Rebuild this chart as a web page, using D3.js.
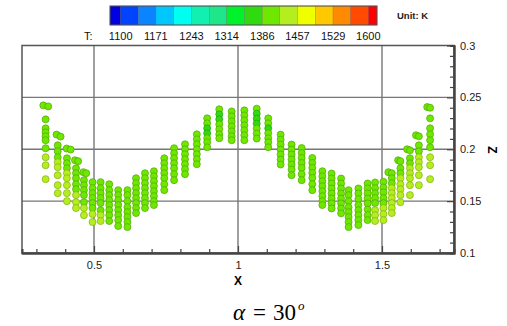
<!DOCTYPE html>
<html>
<head>
<meta charset="utf-8">
<script src="https://cdn.jsdelivr.net/npm/d3@7"></script>
<style>
  body { margin: 0; background: #fff; }
  svg { display: block; font-family: "Liberation Sans", Arial, sans-serif; }
</style>
</head>
<body>
<svg width="507" height="326"></svg>
<script>
// particle columns: x position, z values and temperature of each dot
const colX = [0.324, 0.341, 0.332, 0.370, 0.384, 0.374, 0.405, 0.419, 0.406, 0.434, 0.445, 0.4375,
  0.463, 0.473, 0.465, 0.495, 0.523, 0.553, 0.584, 0.616,
  0.646, 0.677, 0.708, 0.744, 0.778, 0.816, 0.857, 0.893, 0.935, 0.978,
  1.022, 1.065, 1.105, 1.148, 1.186, 1.221, 1.258, 1.293, 1.325, 1.358,
  1.384, 1.418, 1.450, 1.476, 1.505, 1.522, 1.534, 1.556, 1.564, 1.587, 1.597, 1.618, 1.628, 1.657, 1.667];
const colZ = [
  [0.2423], [0.2413],
  [0.2288, 0.2202, 0.2163, 0.2125, 0.2087, 0.2010, 0.1923, 0.1846, 0.1712],
  [0.2141], [0.2122],
  [0.2038, 0.1981, 0.1923, 0.1875, 0.1827, 0.1750, 0.1654, 0.1577],
  [0.2007], [0.1997],
  [0.1913, 0.1865, 0.1817, 0.1769, 0.1721, 0.1654, 0.1577, 0.1500],
  [0.1894], [0.1885],
  [0.1817, 0.1769, 0.1721, 0.1663, 0.1615, 0.1558, 0.1490, 0.1433],
  [0.1779], [0.1769],
  [0.1702, 0.1654, 0.1606, 0.1558, 0.1490, 0.1433, 0.1365],
  [0.1683, 0.1625, 0.1577, 0.1529, 0.1481, 0.1433, 0.1375, 0.1298],
  [0.1683, 0.1625, 0.1577, 0.1529, 0.1481, 0.1413, 0.1365, 0.1308],
  [0.1663, 0.1606, 0.1558, 0.1510, 0.1462, 0.1413, 0.1365, 0.1308],
  [0.1606, 0.1558, 0.1510, 0.1462, 0.1413, 0.1365, 0.1317, 0.1260],
  [0.1606, 0.1558, 0.1500, 0.1442, 0.1394, 0.1346, 0.1298, 0.1250],
  [0.1721, 0.1673, 0.1625, 0.1577, 0.1529, 0.1481, 0.1433, 0.1385],
  [0.1769, 0.1721, 0.1673, 0.1625, 0.1577, 0.1529, 0.1481, 0.1433],
  [0.1788, 0.1740, 0.1692, 0.1644, 0.1596, 0.1548, 0.1500, 0.1462],
  [0.1913, 0.1865, 0.1817, 0.1769, 0.1721, 0.1663, 0.1606],
  [0.2010, 0.1962, 0.1913, 0.1865, 0.1817, 0.1760, 0.1702],
  [0.2048, 0.2000, 0.1952, 0.1904, 0.1856, 0.1808, 0.1760],
  [0.2144, 0.2096, 0.2048, 0.2000, 0.1952, 0.1904, 0.1856],
  [0.2298, 0.2250, 0.2202, 0.2154, 0.2106, 0.2067, 0.2019],
  [0.2385, 0.2337, 0.2288, 0.2240, 0.2192, 0.2144, 0.2106],
  [0.2365, 0.2317, 0.2269, 0.2221, 0.2173, 0.2125, 0.2087],
  [0.2375, 0.2327, 0.2279, 0.2231, 0.2183, 0.2135, 0.2087],
  [0.2391, 0.2343, 0.2295, 0.2247, 0.2199, 0.2151, 0.2103],
  [0.2298, 0.2250, 0.2202, 0.2154, 0.2106, 0.2067, 0.2019],
  [0.2141, 0.2093, 0.2045, 0.1997, 0.1949, 0.1901, 0.1853],
  [0.2045, 0.1997, 0.1949, 0.1901, 0.1853, 0.1805, 0.1750],
  [0.2012, 0.1964, 0.1916, 0.1868, 0.1820, 0.1760, 0.1702],
  [0.1916, 0.1868, 0.1820, 0.1772, 0.1724, 0.1663, 0.1606],
  [0.1788, 0.1740, 0.1692, 0.1644, 0.1596, 0.1548, 0.1500, 0.1462],
  [0.1766, 0.1718, 0.1670, 0.1622, 0.1574, 0.1526, 0.1478, 0.1430],
  [0.1718, 0.1670, 0.1622, 0.1574, 0.1526, 0.1478, 0.1430, 0.1382],
  [0.1606, 0.1558, 0.1500, 0.1442, 0.1394, 0.1346, 0.1298, 0.1250],
  [0.1622, 0.1574, 0.1520, 0.1462, 0.1413, 0.1365, 0.1317, 0.1269],
  [0.1670, 0.1622, 0.1574, 0.1526, 0.1478, 0.1420, 0.1365, 0.1317],
  [0.1680, 0.1625, 0.1577, 0.1529, 0.1481, 0.1413, 0.1365, 0.1308],
  [0.1686, 0.1632, 0.1584, 0.1529, 0.1481, 0.1433, 0.1375, 0.1317],
  [0.1779],
  [0.1769, 0.1721, 0.1673, 0.1625, 0.1577, 0.1529, 0.1481, 0.1433, 0.1385],
  [0.1894],
  [0.1885, 0.1817, 0.1769, 0.1721, 0.1663, 0.1615, 0.1558, 0.1490],
  [0.2000],
  [0.1990, 0.1913, 0.1865, 0.1817, 0.1769, 0.1721, 0.1654, 0.1558],
  [0.2135],
  [0.2125, 0.2038, 0.1981, 0.1923, 0.1875, 0.1827, 0.1750, 0.1654],
  [0.2407],
  [0.2400, 0.2298, 0.2202, 0.2144, 0.2087, 0.2019, 0.1923, 0.1846, 0.1712]
];
const colT = [
  [1400], [1400],
  [1400, 1400, 1400, 1400, 1400, 1400, 1440, 1440, 1440],
  [1400], [1400],
  [1400, 1400, 1400, 1440, 1440, 1440, 1440, 1440],
  [1400], [1400],
  [1400, 1400, 1400, 1440, 1440, 1440, 1440, 1440],
  [1400], [1400],
  [1400, 1400, 1400, 1400, 1400, 1440, 1440, 1440],
  [1400], [1400],
  [1400, 1400, 1400, 1400, 1400, 1440, 1440],
  [1400, 1400, 1400, 1400, 1400, 1400, 1440, 1440],
  [1400, 1400, 1400, 1400, 1400, 1400, 1440, 1440],
  [1400, 1400, 1400, 1400, 1400, 1400, 1400, 1400],
  [1400, 1400, 1400, 1400, 1400, 1400, 1400, 1400],
  [1400, 1400, 1400, 1400, 1400, 1400, 1400, 1400],
  [1400, 1400, 1400, 1400, 1400, 1400, 1400, 1400],
  [1400, 1400, 1400, 1400, 1400, 1400, 1400, 1400],
  [1400, 1400, 1400, 1400, 1400, 1400, 1400, 1400],
  [1400, 1400, 1400, 1400, 1400, 1400, 1400],
  [1400, 1400, 1400, 1400, 1400, 1400, 1400],
  [1400, 1400, 1400, 1400, 1400, 1400, 1400],
  [1400, 1400, 1400, 1400, 1400, 1400, 1400],
  [1400, 1400, 1375, 1375, 1400, 1400, 1400],
  [1400, 1375, 1375, 1400, 1400, 1400, 1400],
  [1400, 1400, 1400, 1400, 1400, 1400, 1400],
  [1400, 1400, 1400, 1400, 1400, 1400, 1400],
  [1400, 1375, 1375, 1375, 1400, 1400, 1400],
  [1400, 1400, 1375, 1400, 1400, 1400, 1400],
  [1400, 1400, 1400, 1400, 1400, 1400, 1400],
  [1400, 1400, 1400, 1400, 1400, 1400, 1400],
  [1400, 1400, 1400, 1400, 1400, 1400, 1400],
  [1400, 1400, 1400, 1400, 1400, 1400, 1400],
  [1400, 1400, 1400, 1400, 1400, 1400, 1400, 1400],
  [1400, 1400, 1400, 1400, 1400, 1400, 1400, 1400],
  [1400, 1400, 1400, 1400, 1400, 1400, 1400, 1400],
  [1400, 1400, 1400, 1400, 1400, 1400, 1400, 1400],
  [1400, 1400, 1400, 1400, 1400, 1400, 1400, 1400],
  [1400, 1400, 1400, 1400, 1400, 1400, 1400, 1400],
  [1400, 1400, 1400, 1400, 1400, 1440, 1440, 1440],
  [1400, 1400, 1400, 1400, 1400, 1440, 1440, 1440],
  [1400],
  [1400, 1400, 1400, 1440, 1440, 1440, 1440, 1440, 1440],
  [1400],
  [1400, 1400, 1400, 1440, 1440, 1440, 1440, 1440],
  [1400],
  [1400, 1400, 1400, 1440, 1440, 1440, 1440, 1440],
  [1400],
  [1400, 1400, 1400, 1440, 1440, 1440, 1440, 1440],
  [1400],
  [1400, 1400, 1400, 1400, 1400, 1400, 1440, 1440, 1440]
];

// contour levels of the legend and their colours
const levels = [1100, 1136, 1171, 1207, 1243, 1279, 1314, 1350, 1386, 1421, 1457, 1493, 1529, 1564, 1600];
const bandColors = ["#0000e0", "#0044ff", "#0a84ff", "#00c8ff", "#00fff0", "#10f0b0", "#20e68a", "#00f22a",
  "#30da10", "#6ee800", "#b4ee1e", "#f0ff00", "#ffc800", "#ff8a00", "#ff4a00", "#ff0000"];
const legendTicks = [1100, 1171, 1243, 1314, 1386, 1457, 1529, 1600];
const xTicks = [0.5, 1, 1.5];
const xMinor = [0.3, 0.4, 0.6, 0.7, 0.8, 0.9, 1.1, 1.2, 1.3, 1.4, 1.6, 1.7];
const zTicks = [0.1, 0.15, 0.2, 0.25, 0.3];
const zMinor = [0.11, 0.12, 0.13, 0.14, 0.16, 0.17, 0.18, 0.19, 0.21, 0.22, 0.23, 0.24, 0.26, 0.27, 0.28, 0.29];

const svg = d3.select("svg");
const x = d3.scaleLinear().domain([0.25, 1.75]).range([22, 454]);
const z = d3.scaleLinear().domain([0.1, 0.3]).range([253, 45.5]);
const color = d3.scaleThreshold().domain(levels).range(bandColors);

// grid
const grid = svg.append("g").attr("stroke", "#777").attr("stroke-width", 1.4);
grid.selectAll(".gx").data(xTicks).enter().append("line")
    .attr("x1", d => x(d)).attr("x2", d => x(d))
    .attr("y1", z(0.3)).attr("y2", z(0.1));
grid.selectAll(".gz").data([0.15, 0.2, 0.25]).enter().append("line")
    .attr("x1", x(0.25)).attr("x2", x(1.75))
    .attr("y1", d => z(d)).attr("y2", d => z(d));

// frame
svg.append("rect")
    .attr("x", x(0.25)).attr("y", z(0.3))
    .attr("width", x(1.75) - x(0.25)).attr("height", z(0.1) - z(0.3))
    .attr("fill", "none").attr("stroke", "#555").attr("stroke-width", 1.5);

// points
const pts = [];
colX.forEach(function(cx, i) {
  colZ[i].forEach(function(zz, j) { pts.push({x: cx, z: zz, t: colT[i][j]}); });
});
svg.append("g").selectAll("circle")
    .data(pts)
    .enter().append("circle")
    .attr("cx", d => x(d.x))
    .attr("cy", d => z(d.z))
    .attr("r", 3.5)
    .attr("fill", d => color(d.t))
    .attr("stroke", d => d3.color(color(d.t)).darker(0.9))
    .attr("stroke-width", 0.7);

// axes
const bottom = svg.append("g").attr("transform", "translate(0," + z(0.1) + ")");
bottom.call(d3.axisBottom(x).tickValues(xMinor).tickSize(-4).tickFormat(""));
bottom.append("g").call(d3.axisBottom(x).tickValues(xTicks).tickSize(-7).tickSizeOuter(0).tickPadding(8).tickFormat(d3.format("")));
const right = svg.append("g").attr("transform", "translate(" + x(1.75) + ",0)");
right.call(d3.axisRight(z).tickValues(zMinor).tickSize(-4).tickFormat(""));
right.append("g").call(d3.axisRight(z).tickValues(zTicks).tickSize(-7).tickSizeOuter(0).tickPadding(6).tickFormat(d3.format("")));
svg.selectAll(".domain").attr("stroke", "#444").attr("stroke-width", 2);
svg.selectAll(".tick line").attr("stroke", "#444").attr("stroke-width", 1.2);
svg.selectAll(".tick text").attr("font-size", 11).attr("fill", "#222");

svg.append("text").attr("x", x(1)).attr("y", 285)
    .attr("text-anchor", "middle").attr("font-size", 12).attr("font-weight", "bold").text("X");
svg.append("text").attr("transform", "translate(488,150) rotate(90)")
    .attr("text-anchor", "middle").attr("font-size", 12).attr("font-weight", "bold").text("Z");

// legend
const lx = d3.scaleLinear().domain([1100, 1600]).range([120.7, 368.3]);
const leg = svg.append("g");
leg.selectAll("rect").data(bandColors).enter().append("rect")
    .attr("x", (d, i) => i === 0 ? 110 : lx(levels[i - 1]))
    .attr("width", (d, i) => (i === bandColors.length - 1 ? 377 : lx(levels[i])) - (i === 0 ? 110 : lx(levels[i - 1])))
    .attr("y", 6).attr("height", 19)
    .attr("fill", d => d)
    .attr("stroke", "rgba(60,60,60,0.35)").attr("stroke-width", 0.6);
leg.append("rect").attr("x", 110).attr("y", 6).attr("width", 267).attr("height", 19)
    .attr("fill", "none").attr("stroke", "#555").attr("stroke-width", 1);
leg.selectAll(".lt").data(legendTicks).enter().append("text")
    .attr("x", d => lx(d)).attr("y", 40)
    .attr("text-anchor", "middle").attr("font-size", 11).attr("fill", "#111")
    .text(d => d);
leg.append("text").attr("x", 84).attr("y", 40).attr("font-size", 11).attr("fill", "#111").text("T:");
leg.append("text").attr("x", 397).attr("y", 19).attr("font-size", 9.5).attr("font-weight", "bold").attr("fill", "#222").text("Unit: K");

// caption
const cap = svg.append("text").attr("x", 233).attr("y", 320)
    .attr("font-family", "'Liberation Serif', 'Times New Roman', serif").attr("font-size", 23).attr("fill", "#000");
cap.append("tspan").attr("font-style", "italic").text("α");
cap.append("tspan").attr("dx", 8).text("=");
cap.append("tspan").attr("dx", 7).text("30");
cap.append("tspan").attr("font-style", "italic").attr("font-size", 13).attr("dx", 2).attr("dy", -10).text("o");
</script>
</body>
</html>
